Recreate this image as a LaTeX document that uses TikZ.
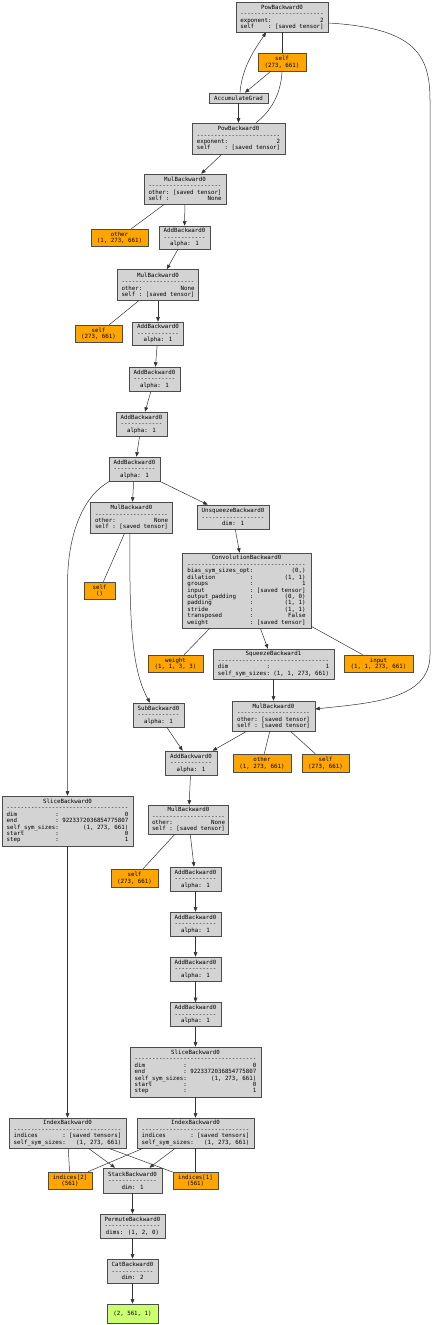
\documentclass[tikz,border=0pt]{standalone}
\usepackage{fontspec}
\newfontfamily\mono{DejaVu Sans Mono}
\usetikzlibrary{arrows.meta}
\definecolor{fngray}{HTML}{D3D3D3}
\definecolor{tensor}{HTML}{FFA500}
\definecolor{outgreen}{HTML}{CAFF70}
\newlength\cw
\setlength\cw{3.474pt}
\newcommand\monofs{\mono\fontsize{5.77}{6.43}\selectfont}
\newcommand\dl[1]{\makebox[#1\cw]{\leaders\hbox to\cw{\hss-\hss}\hfill}}
\newcommand\kv[4]{\makebox[#1\cw][l]{#2}\makebox[2\cw][l]{:}\makebox[#3\cw][r]{#4}}
\newcommand\addlbl{AddBackward0\\\dl{12}\\alpha: 1}
\tikzset{
 fn/.style={draw=black!70, line width=0.6pt, fill=fngray, font=\monofs, align=center, inner xsep=1pt, inner ysep=0.5pt},
 tns/.style={fn, fill=tensor},
 outn/.style={fn, fill=outgreen},
 edge/.style={line width=0.5pt, draw=black!80, -{Triangle[length=4.5pt,width=3.6pt]}},
 link/.style={line width=0.5pt, draw=black!80},
 sz/.style 2 args={minimum width=#1pt, minimum height=#2pt}
}
\begin{document}
\begin{tikzpicture}[x=1pt,y=-1pt]
\fill[white] (0,0) rectangle (437,1325);
\useasboundingbox (0,0) rectangle (437,1325);

% nodes
\node[fn, sz={92}{30}] (PowA) at (282,17) {PowBackward0\\\dl{24}\\\kv{8}{exponent}{14}{2}\\\kv{8}{self}{14}{[saved tensor]}};
\node[tns, sz={48}{18}] (selfA) at (282,62) {self\\(273, 661)};
\node[fn, sz={59}{10}] (Acc) at (238.5,98) {AccumulateGrad};
\node[fn, sz={93}{31}] (PowB) at (238.5,138.5) {PowBackward0\\\dl{24}\\\kv{8}{exponent}{14}{2}\\\kv{8}{self}{14}{[saved tensor]}};
\node[fn, sz={82}{30}] (Mul1) at (185,189) {MulBackward0\\\dl{21}\\\kv{5}{other}{14}{[saved tensor]}\\\kv{5}{self}{14}{None}};
\node[tns, sz={57}{17}] (other1) at (119.5,237.5) {other\\(1, 273, 661)};
\node[fn, sz={51}{23}] (Add1) at (184.5,237.5) {\addlbl};
\node[fn, sz={81}{31}] (Mul2) at (158,285) {MulBackward0\\\dl{21}\\\kv{5}{other}{14}{None}\\\kv{5}{self}{14}{[saved tensor]}};
\node[tns, sz={47}{17}] (self2) at (98.5,333.5) {self\\(273, 661)};
\node[fn, sz={51}{23}] (Add2) at (158,333.5) {\addlbl};
\node[fn, sz={51}{24}] (Add3) at (154.5,379) {\addlbl};
\node[fn, sz={51}{24}] (Add4) at (141.5,424) {\addlbl};
\node[fn, sz={51}{24}] (Add5) at (134.5,469) {\addlbl};
\node[fn, sz={82}{31}] (Mul3) at (131.5,517.5) {MulBackward0\\\dl{21}\\\kv{5}{other}{14}{None}\\\kv{5}{self}{14}{[saved tensor]}};
\node[fn, sz={72}{24}] (Unsq) at (233,517) {UnsqueezeBackward0\\\dl{18}\\dim: 1};
\node[tns, sz={31}{17}] (self3) at (99.5,590.5) {self\\()};
\node[fn, sz={129}{75}] (Conv) at (246.5,590.5) {ConvolutionBackward0\\\dl{34}\\
\kv{18}{bias\_sym\_sizes\_opt}{14}{(0,)}\\
\kv{18}{dilation}{14}{(1, 1)}\\
\kv{18}{groups}{14}{1}\\
\kv{18}{input}{14}{[saved tensor]}\\
\kv{18}{output\_padding}{14}{(0, 0)}\\
\kv{18}{padding}{14}{(1, 1)}\\
\kv{18}{stride}{14}{(1, 1)}\\
\kv{18}{transposed}{14}{False}\\
\kv{18}{weight}{14}{[saved tensor]}};
\node[tns, sz={55}{17}] (weight) at (175.5,663.5) {weight\\(1, 1, 3, 3)};
\node[fn, sz={121}{30}] (Squeeze) at (273.5,664) {SqueezeBackward1\\\dl{32}\\\kv{14}{dim}{16}{1}\\\kv{14}{self\_sym\_sizes}{16}{(1, 1, 273, 661)}};
\node[tns, sz={69}{17}] (input) at (378.5,663.5) {input\\(1, 1, 273, 661)};
\node[fn, sz={51}{24}] (Sub) at (158.5,715) {SubBackward0\\\dl{12}\\alpha: 1};
\node[fn, sz={83}{30}] (Mul4) at (273.5,716) {MulBackward0\\\dl{21}\\\kv{5}{other}{14}{[saved tensor]}\\\kv{5}{self}{14}{[saved tensor]}};
\node[fn, sz={52}{24}] (Add6) at (191,763) {\addlbl};
\node[tns, sz={58}{18}] (other4) at (262,763) {other\\(1, 273, 661)};
\node[tns, sz={47}{18}] (self4) at (325.5,763) {self\\(273, 661)};
\node[fn, sz={131}{50}] (Slice1) at (67.5,821) {SliceBackward0\\\dl{35}\\
\kv{14}{dim}{19}{0}\\
\kv{14}{end}{19}{9223372036854775807}\\
\kv{14}{self\_sym\_sizes}{19}{(1, 273, 661)}\\
\kv{14}{start}{19}{0}\\
\kv{14}{step}{19}{1}};
\node[fn, sz={80}{29}] (Mul5) at (188.5,819.5) {MulBackward0\\\dl{21}\\\kv{5}{other}{14}{None}\\\kv{5}{self}{14}{[saved tensor]}};
\node[tns, sz={47}{18}] (self5) at (134.5,878) {self\\(273, 661)};
\node[fn, sz={51}{24}] (Add7) at (195.5,879) {\addlbl};
\node[fn, sz={51}{24}] (Add8) at (195.5,924) {\addlbl};
\node[fn, sz={51}{24}] (Add9) at (195.5,969) {\addlbl};
\node[fn, sz={51}{24}] (Add10) at (195.5,1014.5) {\addlbl};
\node[fn, sz={131}{50}] (Slice2) at (195.5,1072) {SliceBackward0\\\dl{35}\\
\kv{14}{dim}{19}{0}\\
\kv{14}{end}{19}{9223372036854775807}\\
\kv{14}{self\_sym\_sizes}{19}{(1, 273, 661)}\\
\kv{14}{start}{19}{0}\\
\kv{14}{step}{19}{1}};
\node[fn, sz={117}{30}] (Index1) at (67.5,1133) {IndexBackward0\\\dl{31}\\\kv{14}{indices}{15}{[saved tensors]}\\\kv{14}{self\_sym\_sizes}{15}{(1, 273, 661)}};
\node[fn, sz={117}{30}] (Index2) at (195.5,1133) {IndexBackward0\\\dl{31}\\\kv{14}{indices}{15}{[saved tensors]}\\\kv{14}{self\_sym\_sizes}{15}{(1, 273, 661)}};
\node[tns, sz={44}{17}] (indices2) at (70,1180.5) {indices[2]\\(561)};
\node[fn, sz={59}{25}] (Stack) at (132.5,1180.5) {StackBackward0\\\dl{14}\\dim: 1};
\node[tns, sz={45}{17}] (indices1) at (195.5,1180.5) {indices[1]\\(561)};
\node[fn, sz={65}{24}] (Permute) at (132.5,1226) {PermuteBackward0\\\dl{16}\\dims: (1, 2, 0)};
\node[fn, sz={51}{24}] (Cat) at (132.5,1271) {CatBackward0\\\dl{12}\\dim: 2};
\node[outn, sz={51}{19}] (Out) at (132.5,1313.5) {(2, 561, 1)};

% edges
\draw[edge] (Acc) -- (PowB);
\draw[edge] ([xshift=1.5pt]Acc.north) .. controls (242,65) and (258,45) .. ([xshift=-16pt]PowA.south);
\draw[edge] (selfA) -- (Acc);
\draw[link] (PowA) -- (selfA);
\draw[link] (selfA.south) .. controls (281,95) and (270,112) .. ([xshift=17.5pt]PowB.north);
\draw[edge] (PowB) -- (Mul1);
\draw[link] (Mul1) -- (other1);
\draw[edge] (Mul1) -- (Add1);
\draw[edge] (Add1) -- (Mul2);
\draw[link] (Mul2) -- (self2);
\draw[edge] (Mul2) -- (Add2);
\draw[edge] (Add2) -- (Add3);
\draw[edge] (Add3) -- (Add4);
\draw[edge] (Add4) -- (Add5);
\draw[edge] (Add5) -- (Mul3);
\draw[edge] (Add5) -- (Unsq);
\draw[edge] ([xshift=-25pt]Add5.south) .. controls (85,495) and (67.5,530) .. (67.5,585) -- (Slice1.north);
\draw[link] (Mul3) -- (self3);
\draw[edge] ([xshift=-1.5pt]Mul3.south) .. controls (129,630) and (133,672) .. ([xshift=-8.5pt]Sub.north);
\draw[edge] (Unsq) -- (Conv);
\draw[link] (Conv) -- (weight);
\draw[edge] (Conv) -- (Squeeze);
\draw[link] (Conv) -- (input);
\draw[edge] (Squeeze) -- (Mul4);
\draw[edge] ([yshift=-6pt]PowA.east) .. controls (415,28) and (430,55) .. (430,100) -- (430,655) .. controls (430,700) and (370,703) .. ([yshift=7pt]Mul4.east);
\draw[edge] (Sub) -- (Add6);
\draw[edge] (Mul4) -- (Add6);
\draw[link] (Mul4) -- (other4);
\draw[link] (Mul4) -- (self4);
\draw[edge] (Add6) -- (Mul5);
\draw[link] (Mul5) -- (self5);
\draw[edge] (Mul5) -- (Add7);
\draw[edge] (Add7) -- (Add8);
\draw[edge] (Add8) -- (Add9);
\draw[edge] (Add9) -- (Add10);
\draw[edge] (Add10) -- (Slice2);
\draw[edge] (Slice2) -- (Index2);
\draw[edge] (Slice1) -- (Index1);
\draw[edge] (Index1) -- (Stack);
\draw[edge] (Index2) -- (Stack);
\draw[link] (Index1) -- (indices2);
\draw[link] (Index1) -- (indices1);
\draw[link] ([xshift=-52.5pt]Index2.south) -- ([xshift=18pt]indices2.north);
\draw[link] (Index2) -- (indices1);
\draw[edge] (Stack) -- (Permute);
\draw[edge] (Permute) -- (Cat);
\draw[edge] (Cat) -- (Out);
\end{tikzpicture}
\end{document}
